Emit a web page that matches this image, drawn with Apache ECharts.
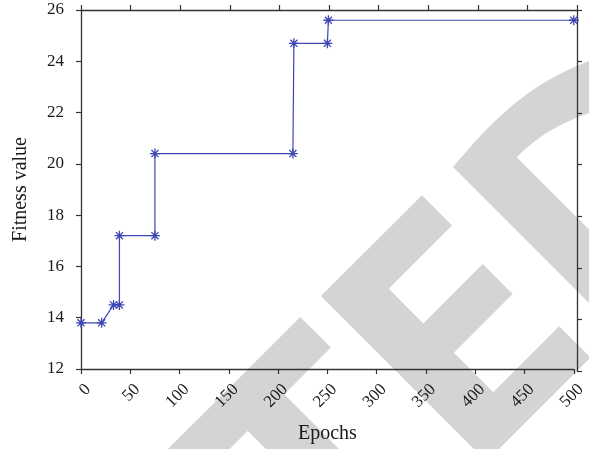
<!DOCTYPE html>
<html>
<head>
<meta charset="utf-8">
<script src="https://cdn.jsdelivr.net/npm/echarts@6/dist/echarts.min.js"></script>
<style>
  html, body { margin: 0; padding: 0; background: #fff; }
  #chart { width: 589px; height: 449px; }
</style>
</head>
<body>
<div id="chart"></div>
<script>
// Best fitness found so far, sampled where it changes
const epochs  = [0, 21, 33, 39, 39, 75, 75, 215, 216, 250, 251, 500];
const fitness = [13.8, 13.8, 14.5, 14.5, 17.2, 17.2, 20.4, 20.4, 24.7, 24.7, 25.6, 25.6];

// Axis ranges and tick steps
const xRange = [0, 500];
const xStep = 50;
const yRange = [12, 26];
const yStep = 2;

const xName = 'Epochs';
const yName = 'Fitness value';

const FONT = 'Liberation Serif';
const TEXT = '#1a1a1a';
const LINE_BLUE = '#3d47b3';
const AXIS_COLOR = '#333';
const STAMP_GRAY = '#d4d4d4';

// Diagonal "TED" stamp in the background (pixel outlines)
function cubic(p0, p1, p2, p3, n) {
  const pts = [];
  for (let i = 0; i <= n; i++) {
    const t = i / n, u = 1 - t;
    pts.push([
      u*u*u*p0[0] + 3*u*u*t*p1[0] + 3*u*t*t*p2[0] + t*t*t*p3[0],
      u*u*u*p0[1] + 3*u*u*t*p1[1] + 3*u*t*t*p2[1] + t*t*t*p3[1]
    ]);
  }
  return pts;
}
const stampT = [[300.2,316.9],[330.9,347.6],[284.3,394.3],[419,529],[382.5,565.5],[247.8,430.8],[150,528.5],[100,517]];
const stampE = [[321,296],[421.9,195.2],[452.1,225.4],[388.8,288.8],[423.4,323.4],[482.7,264],[512.6,293.9],[453.8,352.8],[493.3,392.3],[559.3,326.3],[590.5,357.5],[486.5,461.5]];
const outerArc = cubic([453,167],[493,120],[535,72],[625,50], 24);
const innerArc = cubic([516.7,157.3],[540,134],[566,117],[625,103], 24).reverse();
const stampD = [[625,339]].concat(outerArc, innerArc, [[625,265.6]]);

const chart = echarts.init(document.getElementById('chart'));

// fresh style objects for every axis
const tickOut = () => ({ show: true, inside: false, length: 5, lineStyle: { color: AXIS_COLOR, width: 1.2 } });
const frameLine = () => ({ show: true, onZero: false, lineStyle: { color: AXIS_COLOR, width: 1.3 } });
const noSplit = () => ({ show: false });
const gridRect = () => ({ left: 81, right: 12, top: 10, bottom: 78 });

chart.setOption({
  backgroundColor: '#fff',
  animation: false,
  graphic: [stampT, stampE, stampD].map(pts => ({
    type: 'polygon', z: -10, silent: true, shape: { points: pts }, style: { fill: STAMP_GRAY }
  })),
  // grid 0 carries the data and labelled axes; grid 1 closes the box on top and right
  grid: [gridRect(), gridRect()],
  xAxis: [
    {
      type: 'value', gridIndex: 0, position: 'bottom',
      min: xRange[0], max: xRange[1], interval: xStep,
      axisLine: frameLine(), axisTick: tickOut(), splitLine: noSplit(),
      axisLabel: {
        rotate: 45, margin: 25, padding: [0, -10, 0, 0],
        color: TEXT, fontSize: 17, fontFamily: FONT
      },
      name: xName, nameLocation: 'middle', nameGap: 55,
      nameTextStyle: { fontFamily: FONT, fontSize: 20, color: TEXT }
    },
    {
      type: 'value', gridIndex: 1, position: 'top',
      min: xRange[0], max: xRange[1], interval: xStep,
      axisLine: frameLine(), axisTick: tickOut(), splitLine: noSplit(),
      axisLabel: { show: false }
    }
  ],
  yAxis: [
    {
      type: 'value', gridIndex: 0, position: 'left',
      min: yRange[0], max: yRange[1], interval: yStep,
      axisLine: frameLine(), axisTick: tickOut(), splitLine: noSplit(),
      axisLabel: { margin: 17, color: TEXT, fontSize: 17, fontFamily: FONT },
      name: yName, nameLocation: 'middle', nameGap: 50,
      nameTextStyle: { fontFamily: FONT, fontSize: 20, color: TEXT }
    },
    {
      type: 'value', gridIndex: 1, position: 'right',
      min: yRange[0], max: yRange[1], interval: yStep,
      axisLine: frameLine(), axisTick: tickOut(), splitLine: noSplit(),
      axisLabel: { show: false }
    }
  ],
  series: [
    {
      type: 'line',
      xAxisIndex: 0, yAxisIndex: 0,
      data: epochs.map((e, i) => [e, fitness[i]]),
      clip: false,
      lineStyle: { color: LINE_BLUE, width: 1.2 },
      symbol: 'path://M0,-10L0,10M-10,0L10,0M-7.07,-7.07L7.07,7.07M-7.07,7.07L7.07,-7.07',
      symbolSize: 10,
      showAllSymbol: true,
      itemStyle: { color: 'none', borderColor: LINE_BLUE, borderWidth: 1.3 },
      emphasis: { disabled: true }
    }
  ]
});
</script>
</body>
</html>
